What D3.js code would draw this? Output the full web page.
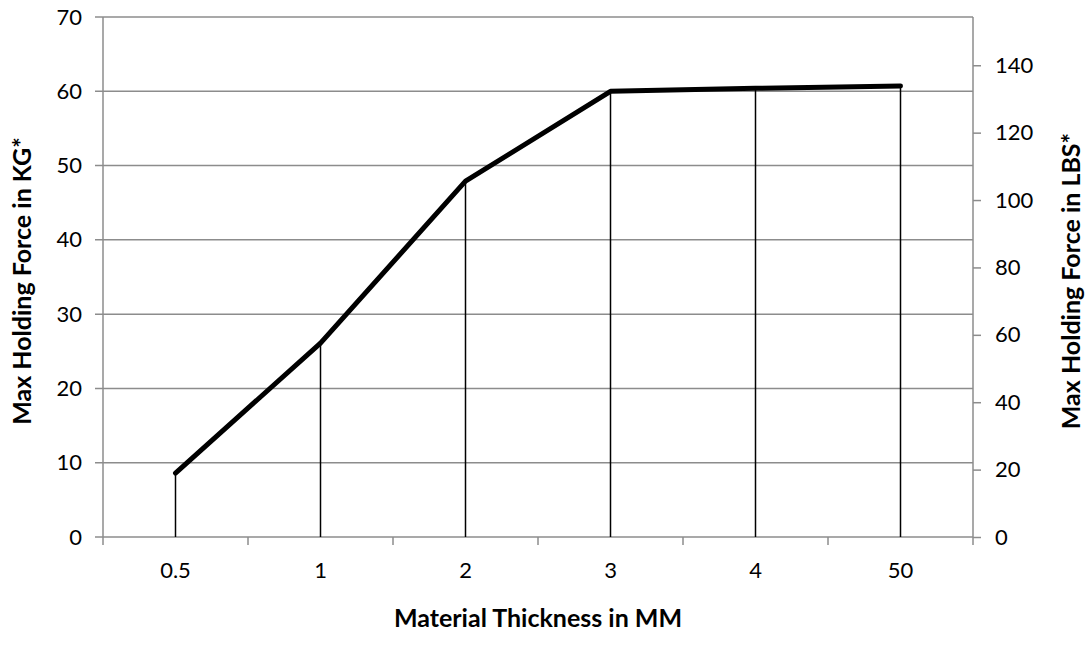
<!DOCTYPE html>
<html>
<head>
<meta charset="utf-8">
<script src="https://cdn.jsdelivr.net/npm/d3@7"></script>
<style>
  body { margin: 0; background: #fff; }
  svg { display: block; }
</style>
</head>
<body>
<div id="chart"></div>
<script>
// Data
const categories = ["0.5", "1", "2", "3", "4", "50"];
const holdingKg = [8.6, 26.1, 47.9, 60.0, 60.4, 60.7];
const kgTicks = [0, 10, 20, 30, 40, 50, 60, 70];
const lbsTicks = [0, 20, 40, 60, 80, 100, 120, 140];
const kgToLbs = 2.2046;

const width = 1088, height = 645;
const margin = { top: 17, right: 115, bottom: 108, left: 103 };
const fontFamily = "Lato, 'Open Sans', sans-serif";
const gridColor = "#8c8c8c";

const svg = d3.select("#chart").append("svg")
  .attr("width", width)
  .attr("height", height);

const x = d3.scaleBand()
  .domain(categories)
  .range([margin.left, width - margin.right]);

const y = d3.scaleLinear()
  .domain([0, 70])
  .range([height - margin.bottom, margin.top]);

const yR = d3.scaleLinear()
  .domain([0, 70 * kgToLbs])
  .range([height - margin.bottom, margin.top]);

const base = y(0);

// gridlines
svg.append("g")
  .selectAll("line")
  .data(kgTicks)
  .join("line")
  .attr("x1", margin.left - 8)
  .attr("x2", width - margin.right)
  .attr("y1", d => y(d))
  .attr("y2", d => y(d))
  .attr("stroke", gridColor)
  .attr("stroke-width", 1.5);

// left axis
const leftAxis = svg.append("g")
  .attr("transform", `translate(${margin.left},0)`)
  .call(d3.axisLeft(y).tickValues(kgTicks).tickSize(0).tickPadding(21));
leftAxis.select(".domain").remove();
svg.append("line")
  .attr("x1", margin.left).attr("x2", margin.left)
  .attr("y1", margin.top).attr("y2", base + 8)
  .attr("stroke", gridColor).attr("stroke-width", 1.5);

// right axis
const rightAxis = svg.append("g")
  .attr("transform", `translate(${width - margin.right},0)`)
  .call(d3.axisRight(yR).tickValues(lbsTicks).tickSize(8).tickPadding(14));
rightAxis.select(".domain")
  .attr("d", `M0,${margin.top}V${base + 8}`)
  .attr("stroke", gridColor).attr("stroke-width", 1.5);
rightAxis.selectAll(".tick line").attr("stroke", gridColor).attr("stroke-width", 1.5);

// x axis
const bottomAxis = svg.append("g")
  .attr("transform", `translate(0,${base})`)
  .call(d3.axisBottom(x).tickSize(0).tickPadding(25));
bottomAxis.select(".domain").remove();
svg.append("g")
  .selectAll("line")
  .data(categories.slice(1))
  .join("line")
  .attr("x1", d => x(d)).attr("x2", d => x(d))
  .attr("y1", base).attr("y2", base + 8)
  .attr("stroke", gridColor).attr("stroke-width", 1.5);

svg.selectAll(".tick text")
  .attr("font-family", fontFamily)
  .attr("font-size", 22)
  .attr("fill", "#000");

// drop lines
svg.append("g")
  .selectAll("line")
  .data(categories)
  .join("line")
  .attr("x1", d => x(d) + x.bandwidth() / 2)
  .attr("x2", d => x(d) + x.bandwidth() / 2)
  .attr("y1", (d, i) => y(holdingKg[i]))
  .attr("y2", base)
  .attr("stroke", "#000")
  .attr("stroke-width", 1.5);

// series line
const line = d3.line()
  .x((d, i) => x(categories[i]) + x.bandwidth() / 2)
  .y(d => y(d));
svg.append("path")
  .datum(holdingKg)
  .attr("d", line)
  .attr("fill", "none")
  .attr("stroke", "#000")
  .attr("stroke-width", 5)
  .attr("stroke-linejoin", "round")
  .attr("stroke-linecap", "round");

// axis titles
svg.append("text")
  .attr("x", (margin.left + width - margin.right) / 2)
  .attr("y", 627)
  .attr("text-anchor", "middle")
  .attr("font-family", fontFamily)
  .attr("font-weight", "bold")
  .attr("font-size", 25)
  .text("Material Thickness in MM");

svg.append("text")
  .attr("transform", `translate(31,281) rotate(-90)`)
  .attr("text-anchor", "middle")
  .attr("font-family", fontFamily)
  .attr("font-weight", "bold")
  .attr("font-size", 25)
  .text("Max Holding Force in KG*");

svg.append("text")
  .attr("transform", `translate(1080,281) rotate(-90)`)
  .attr("text-anchor", "middle")
  .attr("font-family", fontFamily)
  .attr("font-weight", "bold")
  .attr("font-size", 25)
  .text("Max Holding Force in LBS*");
</script>
</body>
</html>
